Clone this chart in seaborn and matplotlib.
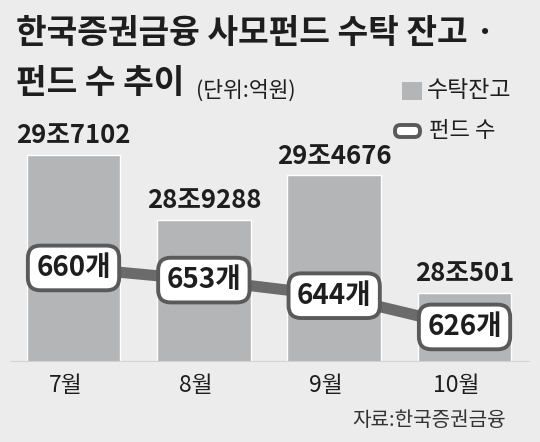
import matplotlib
matplotlib.use('Agg')
import matplotlib.pyplot as plt
from matplotlib.patches import FancyBboxPatch, Rectangle
from matplotlib.transforms import ScaledTranslation
import seaborn as sns
import pandas as pd

# 데이터
months = ['7월', '8월', '9월', '10월']
balance = [297102, 289288, 294676, 280501]          # 억원
balance_labels = ['29조7102', '28조9288', '29조4676', '28조501']
fund_count = [660, 653, 644, 626]
fund_labels = ['660개', '653개', '644개', '626개']

bg = '#ececec'
bar_color = '#b4b5b7'
line_color = '#6b6b6b'
text_color = '#1e1e1e'

sns.set_theme(style='white')
plt.rcParams['font.family'] = ['Noto Sans CJK KR', 'DejaVu Sans']

df = pd.DataFrame({'month': months, 'balance': balance, 'count': fund_count})

W, H = 540, 442
fig = plt.figure(figsize=(W / 100, H / 100), dpi=100, facecolor=bg)

# 막대 영역 (하단 기준선 y=362px)
ax = fig.add_axes([0, (H - 362) / H, 1, 362 / H])
ax.set_facecolor('none')
sns.barplot(data=df, x='month', y='balance', color=bar_color, width=0.72,
            saturation=1, ax=ax)
ax.set_xlim(-0.564, 3.579)
ax.set_ylim(272200, 315746)
for s in ax.spines.values():
    s.set_visible(False)
ax.set_yticks([])
ax.set_xlabel('')
ax.set_ylabel('')
ax.tick_params(axis='x', length=0, pad=9, labelsize=16.5, colors=text_color)
for lbl in ax.get_xticklabels():
    lbl.set_transform(lbl.get_transform() + ScaledTranslation(-0.08, 0, fig.dpi_scale_trans))

# 막대 위 값
for i, (v, t) in enumerate(zip(balance, balance_labels)):
    ax.annotate(t, (i, v), xytext=(0, 4), textcoords='offset points',
                ha='center', va='bottom', fontsize=18.5, fontweight='bold',
                color=text_color)

# 기준선
ax.axhline(272200, color='#d2d2d2', lw=1.5, xmin=0.02, xmax=0.98)

# 펀드 수 선
ax2 = ax.twinx()
ax2.set_ylim(605.8, 814.4)
sns.lineplot(x=range(len(fund_count)), y=fund_count, color=line_color,
             lw=8, ax=ax2, solid_capstyle='butt')
ax2.set_yticks([])
for s in ax2.spines.values():
    s.set_visible(False)
for i, (v, t) in enumerate(zip(fund_count, fund_labels)):
    ax2.text(i, v, t, ha='center', va='center', fontsize=20, fontweight='bold',
             color=text_color,
             bbox=dict(boxstyle='round,pad=0.3,rounding_size=0.45',
                       fc='white', ec='#5a5a5a', lw=2.8))

# 제목
fig.text(16 / W, 1 - 34 / H, '한국증권금융 사모펀드 수탁 잔고 ·', fontsize=24,
         fontweight='bold', color=text_color, ha='left', va='center')
fig.text(16 / W, 1 - 83 / H, '펀드 수 추이', fontsize=24,
         fontweight='bold', color=text_color, ha='left', va='center')
fig.text(196 / W, 1 - 91 / H, '(단위:억원)', fontsize=15.5,
         color=text_color, ha='left', va='center')

# 범례
fig.patches.append(Rectangle((402 / W, 1 - 100 / H), 20 / W, 18 / H,
                             transform=fig.transFigure, fc=bar_color, ec='none'))
fig.text(427 / W, 1 - 91 / H, '수탁잔고', fontsize=16.5, color=text_color,
         ha='left', va='center')
fig.patches.append(FancyBboxPatch((395 / W, 1 - 137 / H), 25 / W, 12 / H,
                                  boxstyle='round,pad=0,rounding_size=0.01',
                                  transform=fig.transFigure, fc='white',
                                  ec='#5a5a5a', lw=2.8, mutation_aspect=W / H))
fig.text(429 / W, 1 - 130 / H, '펀드 수', fontsize=16, color=text_color,
         ha='left', va='center')

# 출처
fig.text(506 / W, 1 - 421 / H, '자료:한국증권금융', fontsize=14.5,
         color='#333333', ha='right', va='center')

fig.savefig('out.png', dpi=100, facecolor=bg)
